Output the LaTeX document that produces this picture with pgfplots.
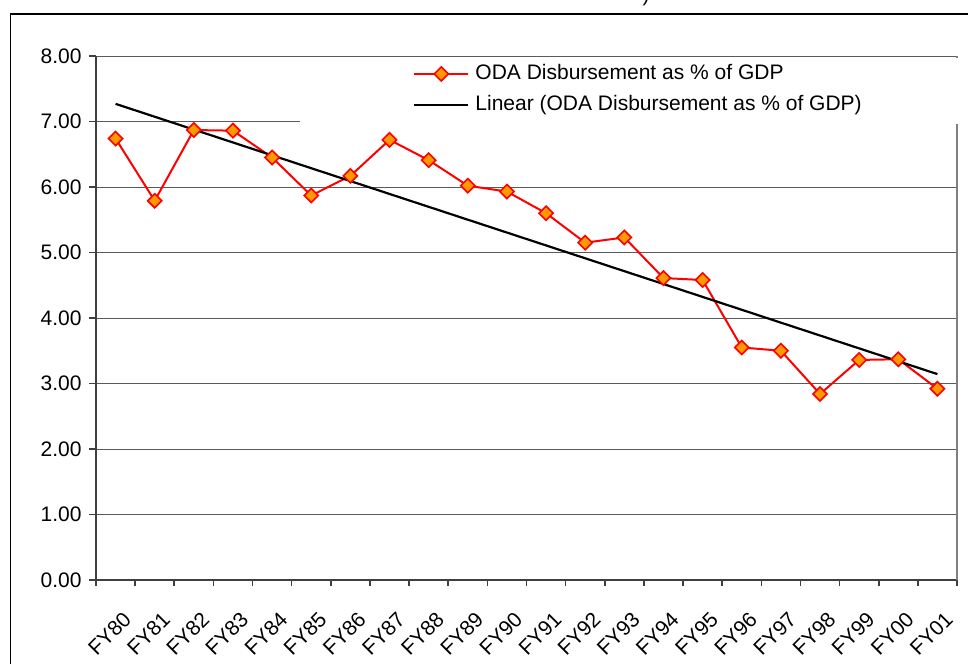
\documentclass[border=0pt]{standalone}
\usepackage{fontspec}
\setmainfont{Liberation Sans}
\usepackage{pgfplots}
\usepackage{pgfplotstable}
\pgfplotsset{compat=1.18}
\definecolor{odared}{RGB}{255,0,0}
\definecolor{odaorange}{RGB}{255,153,0}
\definecolor{gridgray}{RGB}{90,90,90}
\pgfplotstableread{
x y
0 6.74
1 5.79
2 6.87
3 6.86
4 6.45
5 5.87
6 6.17
7 6.72
8 6.41
9 6.02
10 5.93
11 5.60
12 5.15
13 5.23
14 4.61
15 4.58
16 3.55
17 3.50
18 2.84
19 3.36
20 3.37
21 2.92
}\oda
\begin{document}
\fontsize{10.5}{12.6}\selectfont
\begin{tikzpicture}
\begin{scope}[x=0.5pt,y=-0.5pt]
\useasboundingbox (0,0) rectangle (968,664);
\draw[black, line width=0.6pt] (10.5,664) -- (10.5,14) -- (968,14);
\node[anchor=base, inner sep=0pt] at (646,2) {)};
\end{scope}
\begin{axis}[
  at={(48pt,-290pt)}, anchor=south west,
  scale only axis, width=430.5pt, height=262pt,
  xmin=-0.5, xmax=21.5, ymin=0, ymax=8,
  axis x line*=bottom, axis y line*=left,
  axis line style={black!75, line width=0.8pt},
  ytick={0,...,8}, ymajorgrids,
  grid style={gridgray, line width=0.5pt},
  xtick={0,...,21},
  xticklabels={FY80,FY81,FY82,FY83,FY84,FY85,FY86,FY87,FY88,FY89,FY90,FY91,FY92,FY93,FY94,FY95,FY96,FY97,FY98,FY99,FY00,FY01},
  minor xtick={-0.5,0.5,...,21.5},
  tick align=outside,
  major tick length=3.5pt, minor tick length=3pt,
  tick style={black!75, line width=0.8pt},
  major x tick style={draw=none},
  /pgf/number format/assume math mode=true,
  yticklabel style={/pgf/number format/fixed, /pgf/number format/fixed zerofill, /pgf/number format/precision=2, font=\fontsize{10.5}{12}\selectfont},
  xticklabel style={rotate=45, anchor=north east, inner sep=0pt, xshift=-6pt, yshift=-10.5pt, font=\fontsize{10.5}{12}\selectfont},
  clip=false,
  legend cell align=left,
  legend image code/.code={\draw[mark repeat=2,mark phase=2,#1] plot coordinates {(0pt,0pt) (13.5pt,0pt) (27pt,0pt)};},
  legend style={at={(0.368,0.9866)}, anchor=north west, draw=none, fill=none, inner sep=0pt, column sep=3pt, row sep=5pt,
    nodes={inner sep=0pt, text height=8pt, text depth=2.5pt, font=\fontsize{10.5}{12}\selectfont}},
]
\draw[black!50, line width=1pt] (rel axis cs:1,0) -- (rel axis cs:1,1);
\addplot[color=odared, line width=1pt, mark=square*, mark size=2.5pt,
  mark options={rotate=45, fill=odaorange, draw=odared, line width=0.8pt}]
  table[x=x, y=y] {\oda};
\addlegendentry{ODA Disbursement as \% of GDP}
\addplot[black, line width=1.1pt, no marks]
  table[x=x, y={create col/linear regression={y=y}}] {\oda};
\addlegendentry{Linear (ODA Disbursement as \% of GDP)}
\fill[white] (rel axis cs:0.2369,0.9962) rectangle (rel axis cs:1.01,0.870);
\end{axis}
\end{tikzpicture}
\end{document}
